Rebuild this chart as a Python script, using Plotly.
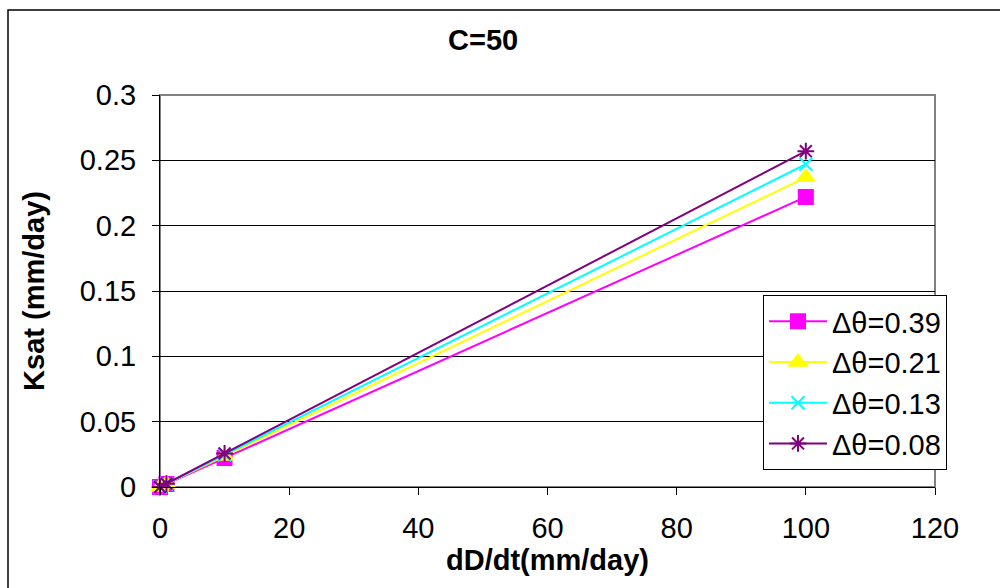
import plotly.graph_objects as go

x_vals = [0, 1, 10, 100]
names = ["Δθ=0.39", "Δθ=0.21", "Δθ=0.13", "Δθ=0.08"]
y_039 = [0, 0.00222, 0.0222, 0.222]
y_021 = [0, 0.00237, 0.0237, 0.237]
y_013 = [0, 0.00247, 0.0247, 0.247]
y_008 = [0, 0.00257, 0.0257, 0.257]
series = [y_039, y_021, y_013, y_008]
colors = ["#ff00ff", "#ffff00", "#00ffff", "#800080"]
symbols = ["square", "triangle-up", "x-thin-open", "asterisk-open"]
sizes = [14, 15, 13, 14]

fig = go.Figure()
for n, ys, c, s, sz in zip(names, series, colors, symbols, sizes):
    fig.add_trace(go.Scatter(
        x=x_vals, y=ys, name=n, mode="lines+markers", cliponaxis=False,
        line=dict(color=c, width=2),
        marker=dict(symbol=s, size=sz, color=c, line=dict(color=c, width=2)),
    ))

font = "Liberation Sans, Arial, sans-serif"
FS = 29
fig.update_layout(
    width=1000, height=588,
    margin=dict(l=160, r=65, t=95, b=101),
    paper_bgcolor="white", plot_bgcolor="white",
    font=dict(family=font, size=FS, color="black"),
    showlegend=True,
    legend=dict(
        bgcolor="white", bordercolor="black", borderwidth=1,
        font=dict(size=FS), tracegroupgap=0, itemwidth=58,
    ),
    xaxis=dict(
        range=[0, 120], tickvals=[0, 20, 40, 60, 80, 100, 120],
        showgrid=False, zeroline=False,
        showline=True, linecolor="black", linewidth=1,
        ticks="outside", ticklen=7, tickcolor="black",
        tickfont=dict(size=FS), ticklabelstandoff=8,
        title=dict(text="<b>dD/dt(mm/day)</b>", font=dict(size=FS), standoff=6),
    ),
    yaxis=dict(
        range=[0, 0.3], tickvals=[0, 0.05, 0.1, 0.15, 0.2, 0.25, 0.3],
        ticktext=["0", "0.05", "0.1", "0.15", "0.2", "0.25", "0.3"],
        showgrid=True, gridcolor="black", gridwidth=1, zeroline=False,
        showline=True, linecolor="black", linewidth=1,
        ticks="outside", ticklen=7, tickcolor="black",
        tickfont=dict(size=FS), ticklabelstandoff=10,
        title=dict(text="<b>Ksat (mm/day)</b>", font=dict(size=FS), standoff=26),
    ),
    annotations=[dict(text="<b>C=50</b>", x=0, y=0, xref="paper", yref="paper",
                      showarrow=False, font=dict(size=FS),
                      xanchor="center", yanchor="middle")],
)
pw, ph = 1000 - 160 - 65, 588 - 95 - 101
fig.update_layout(legend=dict(x=(763 - 160) / pw, y=1 - (295 - 95) / ph,
                              xanchor="left", yanchor="top"))
fig.layout.annotations[0].update(x=(483 - 160) / pw, y=1 - (40 - 95) / ph)

fig.add_shape(type="rect", xref="paper", yref="paper", x0=0, y0=0, x1=1, y1=1,
              line=dict(color="#808080", width=2), layer="below")
fig.add_shape(type="rect", xref="paper", yref="paper",
              x0=(8 - 160) / pw, y0=-1, x1=2, y1=1 + (95 - 10) / ph,
              line=dict(color="black", width=1.5), layer="below")

fig.write_html("out.html")
